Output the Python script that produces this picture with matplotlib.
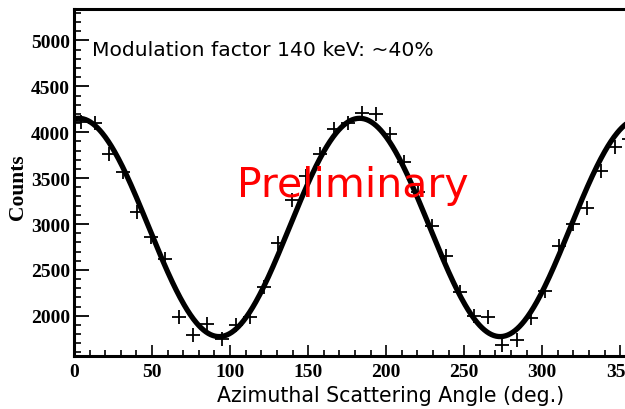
import numpy as np
import matplotlib
matplotlib.use("Agg")
import matplotlib.pyplot as plt
from matplotlib.ticker import MultipleLocator

# Data (bin centers in degrees, counts)
angles = [4.5, 13.5, 22.5, 31.5, 40.5, 49.5, 58.5, 67.5, 76.5, 85.5,
          94.5, 103.5, 112.5, 121.5, 130.5, 139.5, 148.5, 157.5, 166.5, 175.5,
          184.5, 193.5, 202.5, 211.5, 220.5, 229.5, 238.5, 247.5, 256.5, 265.5,
          274.5, 283.5, 292.5, 301.5, 310.5, 319.5, 328.5, 337.5, 346.5, 355.5]
counts = [4112, 4101, 3767, 3568, 3126, 2854, 2618, 1985, 1792, 1912,
          1745, 1901, 1992, 2311, 2789, 3260, 3520, 3760, 4039, 4104,
          4213, 4202, 3985, 3680, 3351, 2980, 2652, 2260, 2000, 1985,
          1680, 1731, 1974, 2273, 2762, 2996, 3178, 3575, 3840, 3930]

x_ticks = [0, 50, 100, 150, 200, 250, 300, 350]
y_ticks = [2000, 2500, 3000, 3500, 4000, 4500, 5000]

title_text = "Modulation factor 140 keV: ~40%"
prelim_text = "Preliminary"
xlabel_text = "Azimuthal Scattering Angle (deg.)"
ylabel_text = "Counts"

# Fit modulation curve a + b cos(2phi) + c sin(2phi) to the data
phi = np.radians(np.array(angles))
A = np.column_stack([np.ones_like(phi), np.cos(2 * phi), np.sin(2 * phi)])
coef, *_ = np.linalg.lstsq(A, np.array(counts, dtype=float), rcond=None)
xf = np.linspace(0, 360, 721)
pf = np.radians(xf)
yf = coef[0] + coef[1] * np.cos(2 * pf) + coef[2] * np.sin(2 * pf)

fig = plt.figure(figsize=(6.25, 4.10), dpi=100)
ax_w = 1 - 74 / 625 + 0.01
ax = fig.add_axes([74 / 625, (410 - 356.7) / 410, ax_w, (356.7 - 10) / 410])

ax.plot(xf, yf, color="black", lw=3.8, solid_capstyle="round", zorder=2)
ax.plot(angles, counts, linestyle="none", marker="+", markersize=10,
        markeredgewidth=1.3, color="black", zorder=3)

ax.set_xlim(0, 357)
ax.set_ylim(1565, 5343)
ax.set_xticks(x_ticks)
ax.set_yticks(y_ticks)
ax.xaxis.set_minor_locator(MultipleLocator(10))
ax.yaxis.set_minor_locator(MultipleLocator(100))

for s in ["left", "top", "bottom"]:
    ax.spines[s].set_linewidth(2.2)
ax.spines["right"].set_visible(False)

ax.tick_params(axis="both", which="both", direction="in", top=False, right=False)
ax.tick_params(axis="y", which="major", length=11, width=1.3, pad=3)
ax.tick_params(axis="y", which="minor", length=5, width=1.2)
ax.tick_params(axis="x", which="major", length=8, width=1.2, pad=5)
ax.tick_params(axis="x", which="minor", length=4, width=1.2)

for lab in ax.get_xticklabels() + ax.get_yticklabels():
    lab.set_fontfamily("Liberation Serif")
    lab.set_fontweight("bold")
    lab.set_fontsize(14)

ax.set_xlabel(xlabel_text, fontsize=14.8, fontfamily="DejaVu Sans")
ax.xaxis.set_label_coords((391 - 74) / 625 / ax_w, -0.085)
ax.set_ylabel(ylabel_text, fontsize=15.5, fontfamily="Liberation Serif", fontweight="bold")
ax.yaxis.set_label_coords(-0.082, 0.49)

fig.text(92 / 625, 1 - 50 / 410, title_text, fontsize=14.6, fontfamily="DejaVu Sans",
         ha="left", va="center", color="black")
fig.text(353 / 625, 1 - 186 / 410, prelim_text, fontsize=29.5, fontfamily="DejaVu Sans",
         ha="center", va="center", color="#ff0000", zorder=10)

fig.savefig("out.png", dpi=100)
